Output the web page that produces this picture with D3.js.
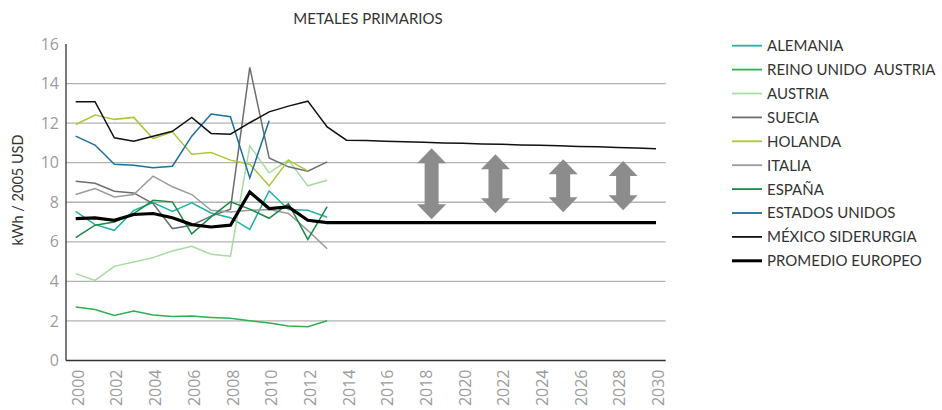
<!DOCTYPE html>
<html><head><meta charset="utf-8">
<script src="https://cdn.jsdelivr.net/npm/d3@7/dist/d3.min.js"></script>
<style>
body{margin:0;background:#fff;}
svg{display:block;}
text{font-family:Lato,"Open Sans",sans-serif;}
</style></head>
<body><svg id="c" width="942" height="410"></svg>
<script>
const years = d3.range(2000, 2031);
const yTicks = [0,2,4,6,8,10,12,14,16];
const xTickYears = [2000,2002,2004,2006,2008,2010,2012,2014,2016,2018,2020,2022,2024,2026,2028,2030];

// values by year starting at 2000
const alemania   = [7.54,6.87,6.58,7.59,7.98,7.54,7.97,7.46,7.22,6.63,8.57,7.63,7.59,7.24];
const reinoUnido = [2.70,2.58,2.28,2.50,2.30,2.23,2.25,2.18,2.13,2.01,1.89,1.74,1.71,2.01];
const austria    = [4.39,4.05,4.76,4.98,5.20,5.54,5.77,5.37,5.27,10.85,9.49,10.13,8.83,9.11];
const suecia     = [9.06,8.96,8.56,8.47,7.93,6.67,6.84,7.30,7.65,14.82,10.24,9.79,9.57,10.04];
const holanda    = [11.93,12.41,12.19,12.29,11.22,11.56,10.43,10.51,10.13,9.92,8.83,10.13,9.59];
const italia     = [8.39,8.69,8.27,8.39,9.32,8.78,8.39,7.59,7.51,7.59,7.63,7.43,6.58,5.65];
const espana     = [6.21,6.84,7.00,7.43,8.10,8.02,6.40,7.26,8.02,7.65,7.19,7.93,6.12,7.78];
const eeuu       = [11.34,10.89,9.92,9.87,9.74,9.82,11.34,12.46,12.32,9.23,12.12];
const mexico     = [13.08,13.08,11.26,11.09,11.34,11.59,12.29,11.48,11.44,12.02,12.57,12.86,13.11,11.81,
                    11.14,11.12,11.09,11.06,11.03,11.00,10.98,10.95,10.93,10.90,10.88,10.85,10.82,10.80,10.77,10.74,10.70];
const promedio   = [7.17,7.21,7.09,7.38,7.43,7.22,6.87,6.75,6.84,8.52,7.68,7.76,7.09,6.97,
                    6.97,6.97,6.97,6.97,6.97,6.97,6.97,6.97,6.97,6.97,6.97,6.97,6.97,6.97,6.97,6.97,6.97];

const seriesNames  = ["ALEMANIA","REINO UNIDO  AUSTRIA","AUSTRIA","SUECIA","HOLANDA","ITALIA","ESPAÑA","ESTADOS UNIDOS","MÉXICO SIDERURGIA","PROMEDIO EUROPEO"];
const seriesValues = [alemania,reinoUnido,austria,suecia,holanda,italia,espana,eeuu,mexico,promedio];
const seriesColors = ["#22b3a6","#2bb24c","#a7dca0","#6d6e71","#a9c93a","#9b9b9b","#178c45","#1b6fa0","#111111","#000000"];
const seriesWidths = [1.5,1.5,1.5,1.5,1.5,1.5,1.5,1.5,1.5,3.2];

// gap arrows: [year position, top value, bottom value]
const arrowYear = [2018.4, 2021.7, 2025.2, 2028.3];
const arrowTop  = [10.73, 10.43, 10.18, 10.08];
const arrowBot  = [7.14, 7.44, 7.49, 7.59];

const svg = d3.select("#c");
const L = 66, R = 665.7, T = 44, B = 360.5;
const x = d3.scaleBand().domain(years).range([L, R]).padding(0);
const bw = x.bandwidth();
const xc = d => x(d) + bw/2;
const xl = d3.scaleLinear().domain([2000,2030]).range([xc(2000), xc(2030)]);
const y = d3.scaleLinear().domain([0,16]).range([B, T]);

// gridlines
svg.append("g").selectAll("line").data(yTicks.filter(t => t > 0 && t < 16)).join("line")
  .attr("x1", L).attr("x2", R).attr("y1", d => y(d)).attr("y2", d => y(d))
  .attr("stroke", "#b3b3b3").attr("stroke-width", 1.3);

// y axis
const ya = svg.append("g").attr("transform", `translate(${L},0)`)
  .call(d3.axisLeft(y).tickValues(yTicks).tickSize(0).tickPadding(7).tickFormat(d3.format("d")));
ya.select(".domain").remove();
ya.selectAll("text").attr("fill", "#9c9c9c").attr("font-size", 16).style("font-family","'Open Sans',sans-serif");
svg.append("line").attr("x1", L).attr("x2", L).attr("y1", T).attr("y2", B)
  .attr("stroke", "#333").attr("stroke-width", 1.3);

// x axis
const xa = svg.append("g").attr("transform", `translate(0,${B})`)
  .call(d3.axisBottom(x).tickValues(xTickYears).tickSize(0));
xa.select(".domain").remove();
xa.selectAll("text")
  .attr("fill", "#9c9c9c").attr("font-size", 16).style("font-family","'Open Sans',sans-serif")
  .attr("text-anchor", "end").attr("transform", "rotate(-90)")
  .attr("x", -9).attr("y", 2).attr("dy", "0.38em").attr("dx", 0);
svg.append("line").attr("x1", L).attr("x2", R).attr("y1", B).attr("y2", B)
  .attr("stroke", "#333").attr("stroke-width", 1.3);

// lines
const line = d3.line().defined(d => d != null).x((d, i) => xc(years[i])).y(d => y(d));
seriesValues.forEach((vals, k) => {
  svg.append("path").datum(vals).attr("d", line)
    .attr("fill", "none").attr("stroke", seriesColors[k]).attr("stroke-width", seriesWidths[k])
    .attr("stroke-linejoin", "miter");
});

// arrows
const hw = 14.5, sw = 7, hh = 15;
arrowYear.forEach((yr, i) => {
  const cx = xl(yr), t = y(arrowTop[i]), b = y(arrowBot[i]);
  const pts = [[cx,t],[cx+hw,t+hh],[cx+sw,t+hh],[cx+sw,b-hh],[cx+hw,b-hh],[cx,b],
               [cx-hw,b-hh],[cx-sw,b-hh],[cx-sw,t+hh],[cx-hw,t+hh]];
  svg.append("path").attr("d", "M" + pts.map(p => p.join(",")).join("L") + "Z").attr("fill", "#8c8c8c");
});

// title
svg.append("text").attr("x", 368).attr("y", 24).attr("text-anchor", "middle")
  .attr("font-size", 15).attr("fill", "#333").text("METALES PRIMARIOS");

// y label
svg.append("text").attr("transform", "translate(23,190) rotate(-90)").attr("text-anchor", "middle")
  .attr("font-size", 14.5).attr("fill", "#333").text("kWh / 2005 USD");

// legend
const lg = svg.append("g");
seriesNames.forEach((n, i) => {
  const yy = 45.7 + i * 23.9;
  lg.append("line").attr("x1", 732).attr("x2", 762).attr("y1", yy).attr("y2", yy)
    .attr("stroke", seriesColors[i]).attr("stroke-width", i === 9 ? 3 : 1.8);
  lg.append("text").attr("x", 767).attr("y", yy).attr("dy", "0.36em")
    .attr("font-size", 15).attr("fill", "#333").style("white-space", "pre").text(n);
});
</script></body></html>
